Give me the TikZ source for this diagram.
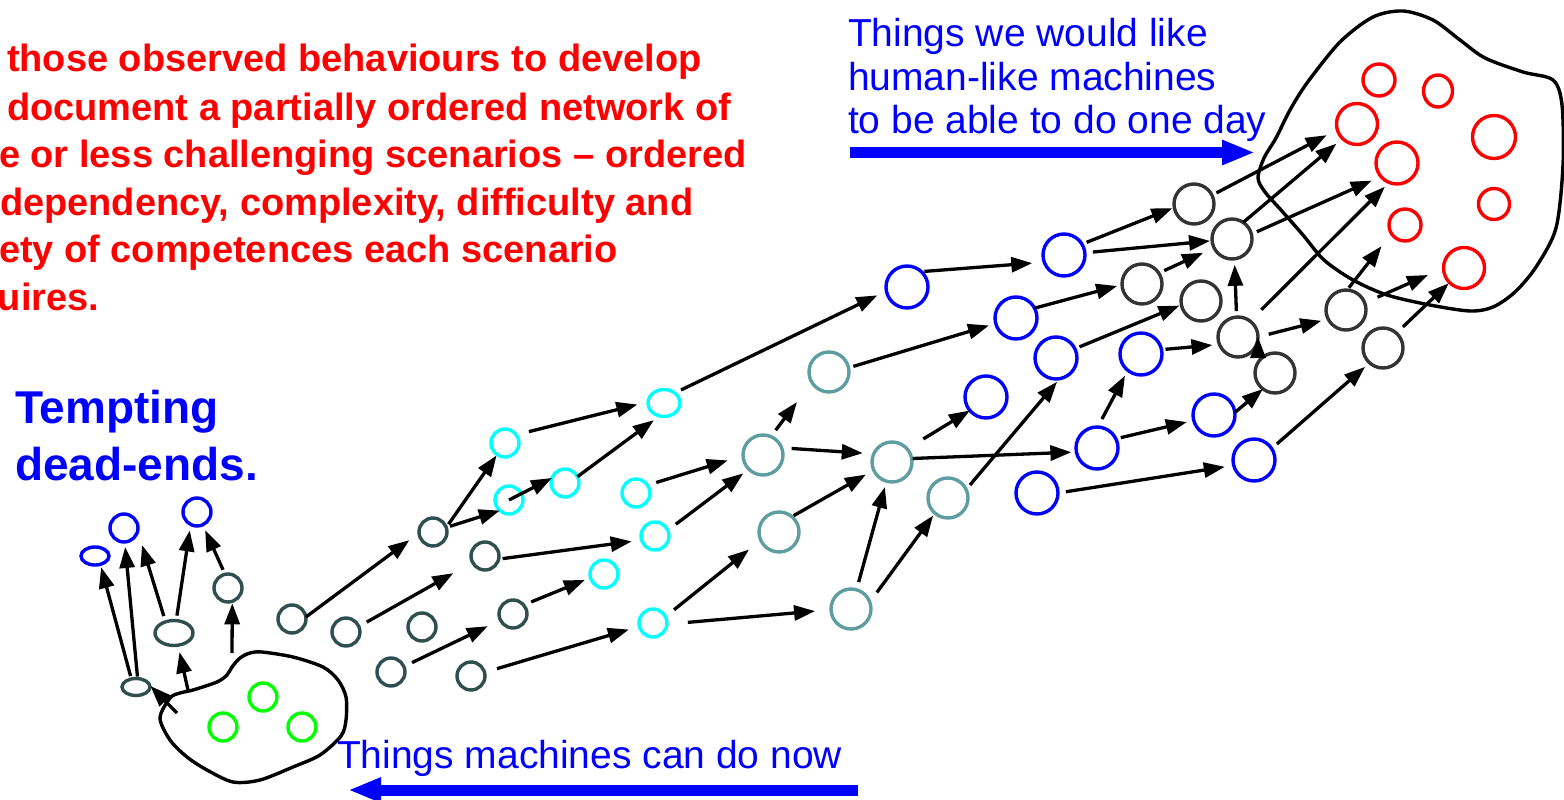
\documentclass[tikz,border=0pt]{standalone}
\usepackage{fontspec}
\setmainfont{Liberation Sans}
\usetikzlibrary{arrows.meta,shapes.geometric}
\definecolor{dslate}{RGB}{47,79,79}
\definecolor{cadet}{RGB}{95,158,160}
\definecolor{dgrey}{RGB}{51,51,51}
\definecolor{aqua}{RGB}{0,255,255}
\definecolor{lime}{RGB}{0,255,0}

\begin{document}
\begin{tikzpicture}[x=1pt,y=-1pt,every node/.style={outer sep=0pt},
    scenario/.style={circle,draw,line width=3.4pt,inner sep=0pt,minimum size=28pt},
    oval/.style={ellipse,draw,line width=3.4pt,inner sep=0pt},
    slate node/.style={scenario,draw=dslate},
    cyan node/.style={scenario,draw=aqua},
    green node/.style={scenario,draw=lime},
    teal node/.style={scenario,draw=cadet,minimum size=40pt},
    blue node/.style={scenario,draw=blue,minimum size=42pt},
    grey node/.style={scenario,draw=dgrey,minimum size=40pt},
    red node/.style={scenario,draw=red,minimum size=#1},
    arr/.style={draw,line width=3.3pt,-{Triangle[length=21pt,width=15pt]}},
    gap/.style 2 args={shorten <=#1pt,shorten >=#2pt},
    blob/.style={draw,line width=3.4pt},
    bigarr/.style={draw=blue,line width=11pt,-{Triangle[length=33pt,width=23pt]}},
    redtxt/.style={anchor=base west,inner sep=0pt,text=red,font=\bfseries\fontsize{38}{47}\selectfont},
    bluetxt/.style={anchor=base west,inner sep=0pt,text=blue,font=\fontsize{39}{44}\selectfont}]
  \useasboundingbox (0,0) rectangle (1564,800);

  \node[redtxt] (txt1) at (7,72) {those observed behaviours to develop};
  \node[redtxt] (txt2) at (7,120) {document a partially ordered network of};
  \node[redtxt] (txt3) at (-1,167) {e or less challenging scenarios – ordered};
  \node[redtxt] (txt4) at (0,215) {dependency, complexity, difficulty and};
  \node[redtxt] (txt5) at (-1,262) {ety of competences each scenario};
  \node[redtxt] (txt6) at (-2,310) {uires.};
  \node[anchor=base west,inner sep=0pt,text=blue,font=\bfseries\fontsize{46}{57}\selectfont] (tempt1) at (15,423) {Tempting};
  \node[anchor=base west,inner sep=0pt,text=blue,font=\bfseries\fontsize{46}{57}\selectfont] (tempt2) at (15,480) {dead-ends.};
  \node[bluetxt] (like1) at (848,47) {Things we would like};
  \node[bluetxt] (like2) at (848,90) {human-like machines};
  \node[bluetxt] (like3) at (848,133) {to be able to do one day};
  \node[bluetxt] (now) at (337,768) {Things machines can do now};

  \coordinate (ta) at (850,152.5);
  \coordinate (tb) at (1255,152.5);
  \coordinate (ba) at (858,790);
  \coordinate (bb) at (348,790);
  \draw[bigarr] (ta) -- (tb);
  \draw[bigarr] (ba) -- (bb);

  \draw[blob] plot[smooth cycle] coordinates {(160,718) (170,698) (180,693) (193,690) (217,682)
    (227,675) (232,667) (240,658) (250,653) (262,652) (293,657) (323,667) (338,680) (346,697)
    (346,720) (341,736) (320,755) (293,767) (260,780) (233,782) (207,770) (187,757) (170,740)};
  \draw[blob] plot[smooth cycle] coordinates {(1258,178) (1264,158) (1276,138) (1290,110) (1307,83)
    (1340,42) (1373,17) (1403,11) (1433,20) (1460,40) (1485,58) (1523,72) (1553,80) (1562,105)
    (1563,165) (1556,228) (1536,267) (1515,292) (1493,307) (1470,311) (1430,305) (1387,295)
    (1353,280) (1324,260) (1303,235) (1281,210) (1265,192)};

  \node[oval,draw=dslate,minimum width=28pt,minimum height=17pt] (s1) at (136,687) {};
  \node[oval,draw=dslate,minimum width=38pt,minimum height=25pt] (s2) at (174,633) {};
  \node[slate node] (s3) at (228,588) {};
  \node[oval,draw=blue,minimum width=28pt,minimum height=18pt] (m1) at (95,556) {};
  \node[scenario,draw=blue] (m2) at (124,528) {};
  \node[scenario,draw=blue] (m3) at (197,512) {};
  \node[green node] (g1) at (223,727) {};
  \node[green node] (g2) at (263,697) {};
  \node[green node] (g3) at (302,727) {};

  \node[slate node] (a1) at (292,619) {};
  \node[slate node] (a2) at (346,632) {};
  \node[slate node] (a3) at (422,627) {};
  \node[slate node] (a4) at (391,672) {};
  \node[slate node] (a5) at (433,532) {};
  \node[slate node] (a6) at (485,556) {};
  \node[slate node] (a7) at (513,614) {};
  \node[slate node] (a8) at (471,676) {};

  \node[cyan node] (c1) at (505,443) {};
  \node[cyan node] (c2) at (509,500) {};
  \node[cyan node] (c3) at (565,483) {};
  \node[oval,draw=aqua,minimum width=32pt,minimum height=27pt] (c4) at (664,403) {};
  \node[cyan node] (c5) at (636,493) {};
  \node[cyan node] (c6) at (655,536) {};
  \node[cyan node] (c7) at (604,574) {};
  \node[cyan node] (c8) at (653,623) {};

  \node[teal node] (t1) at (829,372) {};
  \node[teal node] (t2) at (763,455) {};
  \node[teal node] (t3) at (779,532) {};
  \node[teal node] (t4) at (892,462) {};
  \node[teal node] (t5) at (948,498) {};
  \node[teal node] (t6) at (851,609) {};

  \node[blue node] (b1) at (907,287) {};
  \node[blue node] (b2) at (986,397) {};
  \node[blue node] (b3) at (1064,255) {};
  \node[blue node] (b4) at (1016,318) {};
  \node[blue node] (b5) at (1056,358) {};
  \node[blue node] (b6) at (1141,354) {};
  \node[blue node] (b7) at (1097,448) {};
  \node[blue node] (b8) at (1214,415) {};
  \node[blue node] (b9) at (1254,460) {};
  \node[blue node] (b10) at (1037,493) {};

  \node[grey node] (d1) at (1194,204) {};
  \node[grey node] (d2) at (1232,239) {};
  \node[grey node] (d3) at (1142,284) {};
  \node[grey node] (d4) at (1201,301) {};
  \node[grey node] (d5) at (1238,337) {};
  \node[grey node] (d6) at (1275,373) {};
  \node[grey node] (d7) at (1346,310) {};
  \node[grey node] (d8) at (1383,348) {};

  \node[red node=32pt] (r1) at (1379,80) {};
  \node[oval,draw=red,minimum width=29pt,minimum height=32pt] (r2) at (1438,91) {};
  \node[red node=41pt] (r3) at (1357,124) {};
  \node[red node=42pt] (r4) at (1397,163) {};
  \node[red node=43pt] (r5) at (1494,137) {};
  \node[red node=32pt] (r6) at (1405,225) {};
  \node[red node=31pt] (r7) at (1494,204) {};
  \node[red node=41pt] (r8) at (1464,268) {};

  \coordinate (bs1) at (177,713);
  \coordinate (bs2) at (188,690);
  \coordinate (bs3) at (232,653);
  \coordinate (fe1) at (142,545);
  \coordinate (fe2) at (797,402);
  \coordinate (fe3) at (1428,275);

  \path[arr]
    (bs1) edge[gap={0}{1}] (s1.7)
    (bs2) edge[gap={0}{7}] (s2.-72)
    (bs3) edge[gap={0}{2}] (s3.-72)
    (s1.120) edge[gap={3}{3}] (m1.-57)
    (s1.79) edge[gap={2}{5}] (m2.-87)
    (s2.127) edge[gap={6}{0}] (fe1)
    (s2.80) edge[gap={5}{6}] (m3.-117)
    (s3.102) edge[gap={5}{6}] (m3.-66)
    (a1.8) edge[gap={0}{12}] (a5.184)
    (a2.23) edge[gap={9}{22}] (a6.207)
    (a4.23) edge[gap={9}{14}] (a7.206)
    (a8.15) edge[gap={13}{11}] (c8.194)
    (a5.19) edge[gap={4}{1}] (c1.236)
    (a5.19) edge[gap={4}{0}] (c2.229)
    (c2.center) edge[gap={0}{0}] (c3.159)
    (c3.27) edge[gap={0}{7}] (c4.251)
    (c1.36) edge[gap={13}{11}] (c4.176)
    (a6.-13) edge[gap={4}{10}] (c6.197)
    (a7.40) edge[gap={8}{6}] (c7.195)
    (c4.43) edge[gap={7}{10}] (b1.191)
    (t1.12) edge[gap={5}{7}] (b4.195)
    (c5.34) edge[gap={9}{16}] (t2.182)
    (c6.24) edge[gap={10}{7}] (t2.225)
    (t2.67) edge[gap={8}{0}] (fe2)
    (t2.21) edge[gap={10}{11}] (t4.156)
    (t3.50) edge[gap={2}{9}] (t4.204)
    (c8.27) edge[gap={11}{15}] (t3.204)
    (c8.-5) edge[gap={21}{16}] (t6.182)
    (t6.74) edge[gap={8}{6}] (t4.254)
    (t6.20) edge[gap={12}{3}] (t5.229)
    (t4.41) edge[gap={19}{0}] (b2.220)
    (t4.10) edge[gap={1}{5}] (b7.191)
    (t5.25) edge[gap={6}{4}] (b5.-80)
    (b1.47) edge[gap={3}{12}] (b3.200)
    (b3.31) edge[gap={5}{2}] (d1.190)
    (b3.6) edge[gap={8}{2}] (d2.185)
    (b4.28) edge[gap={0}{5}] (d3.182)
    (d3.33) edge[gap={6}{12}] (d2.206)
    (b5.26) edge[gap={5}{2}] (d4.191)
    (b6.12) edge[gap={4}{7}] (d5.202)
    (d5.94) edge[gap={6}{6}] (d2.-83)
    (b7.88) edge[gap={9}{6}] (b6.231)
    (b7.26) edge[gap={5}{7}] (b8.195)
    (b8.7) edge[gap={0}{0}] (d6.233)
    (b10.0) edge[gap={8}{9}] (b9.195)
    (d1.26) edge[gap={5}{12}] (r3.196)
    (d2.56) edge[gap={0}{8}] (r3.225)
    (d2.14) edge[gap={6}{10}] (r4.220)
    (d5.53) edge[gap={16}{6}] (r4.248)
    (d7.87) edge[gap={3}{16}] (r6.212)
    (d7.21) edge[gap={14}{0}] (fe3)
    (d8.48) edge[gap={9}{1}] (r8.225)
    (b9.33) edge[gap={7}{6}] (d8.228)
    (d5.0) edge[gap={11}{7}] (d7.207);
\end{tikzpicture}
\end{document}
